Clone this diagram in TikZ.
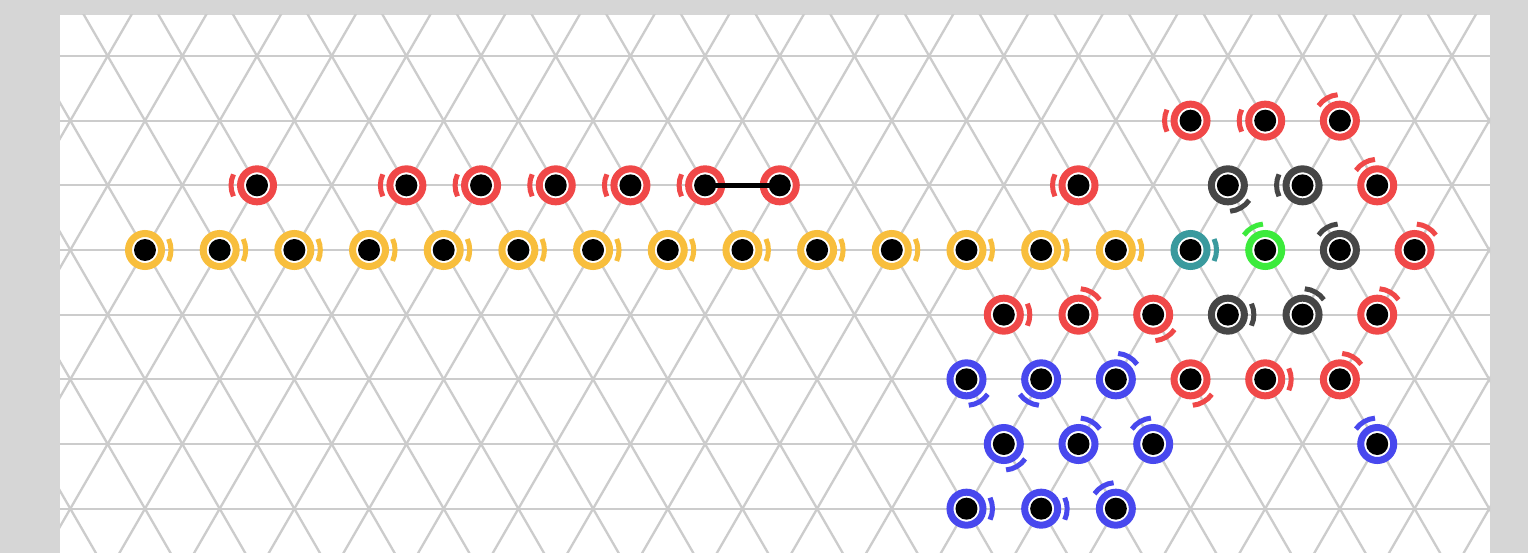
\documentclass[tikz,border=0pt]{standalone}
\usetikzlibrary{calc}
\definecolor{bggray}{RGB}{214,214,214}
\definecolor{gridc}{RGB}{204,204,204}
\definecolor{cred}{RGB}{240,72,72}
\definecolor{cyel}{RGB}{248,190,60}
\definecolor{cteal}{RGB}{58,154,158}
\definecolor{cgreen}{RGB}{60,235,60}
\definecolor{cgrey}{RGB}{70,70,70}
\definecolor{cblue}{RGB}{72,72,238}
\tikzset{
  gridline/.style={draw=gridc, line width=2.3pt},
  gnode/.style={circle, inner sep=0pt, outer sep=0pt, minimum size=33pt,
    draw=#1, line width=7pt, fill=white,
    path picture={\fill[black] (path picture bounding box.center) circle (11pt);}},
  tickarc/.style={draw=#1, line width=5pt},
  link/.style={draw=black, line width=4.8pt},
}
\newcommand{\hexnode}[5]{%
  \node[gnode=#4] (#1) at ({145+#2*37.34},{250+#3*64.67}) {};
  \draw[tickarc=#4] ([shift={({#5-25}:26pt)}]#1.center) arc[start angle={#5-25}, end angle={#5+25}, radius=26pt];
}
\newcommand{\hexnodeplain}[4]{%
  \node[gnode=#4] (#1) at ({145+#2*37.34},{250+#3*64.67}) {};
}
\begin{document}
\begin{tikzpicture}[x=1pt,y=-1pt]
\useasboundingbox (0,0) rectangle (1528,553);
\fill[bggray] (0,0) rectangle (1528,553);
\fill[white] (60,15) rectangle (1490,553);
\begin{scope}
  \clip (60,15) rectangle (1490,553);
  \foreach \m in {-3,...,4}
    \draw[gridline] (60,{250+\m*64.67}) -- (1490,{250+\m*64.67});
  \foreach \k in {-5,...,22} {
    \draw[gridline] ({145+\k*74.68+144.34},0) -- ({145+\k*74.68-178.98},560);
    \draw[gridline] ({145+\k*74.68-144.34},0) -- ({145+\k*74.68+178.98},560);
  }
\end{scope}
% row A
\hexnode{a28}{28}{-2}{cred}{180}
\hexnode{a30}{30}{-2}{cred}{180}
\hexnode{a32}{32}{-2}{cred}{120}
% row B
\hexnode{b3}{3}{-1}{cred}{180}
\hexnode{b7}{7}{-1}{cred}{180}
\hexnode{b9}{9}{-1}{cred}{180}
\hexnode{b11}{11}{-1}{cred}{180}
\hexnode{b13}{13}{-1}{cred}{180}
\hexnode{b15}{15}{-1}{cred}{180}
\hexnodeplain{b17}{17}{-1}{cred}
\hexnode{b25}{25}{-1}{cred}{180}
\hexnode{b29}{29}{-1}{cgrey}{-60}
\hexnode{b31}{31}{-1}{cgrey}{180}
\hexnode{b33}{33}{-1}{cred}{120}
% row C
\foreach \i in {0,2,...,26} { \hexnode{c\i}{\i}{0}{cyel}{0} }
\hexnode{c28}{28}{0}{cteal}{0}
\hexnode{c30}{30}{0}{cgreen}{120}
\hexnode{c32}{32}{0}{cgrey}{120}
\hexnode{c34}{34}{0}{cred}{60}
% row D
\hexnode{d23}{23}{1}{cred}{0}
\hexnode{d25}{25}{1}{cred}{60}
\hexnode{d27}{27}{1}{cred}{-60}
\hexnode{d29}{29}{1}{cgrey}{0}
\hexnode{d31}{31}{1}{cgrey}{60}
\hexnode{d33}{33}{1}{cred}{60}
% row E
\hexnode{e22}{22}{2}{cblue}{-60}
\hexnode{e24}{24}{2}{cblue}{-120}
\hexnode{e26}{26}{2}{cblue}{60}
\hexnode{e28}{28}{2}{cred}{-60}
\hexnode{e30}{30}{2}{cred}{0}
\hexnode{e32}{32}{2}{cred}{60}
% row F
\hexnode{f23}{23}{3}{cblue}{-60}
\hexnode{f25}{25}{3}{cblue}{60}
\hexnode{f27}{27}{3}{cblue}{120}
\hexnode{f33}{33}{3}{cblue}{120}
% row G
\hexnode{g22}{22}{4}{cblue}{0}
\hexnode{g24}{24}{4}{cblue}{0}
\hexnode{g26}{26}{4}{cblue}{120}
% connector
\draw[link] (b15.center) -- (b17.center);
\end{tikzpicture}
\end{document}
